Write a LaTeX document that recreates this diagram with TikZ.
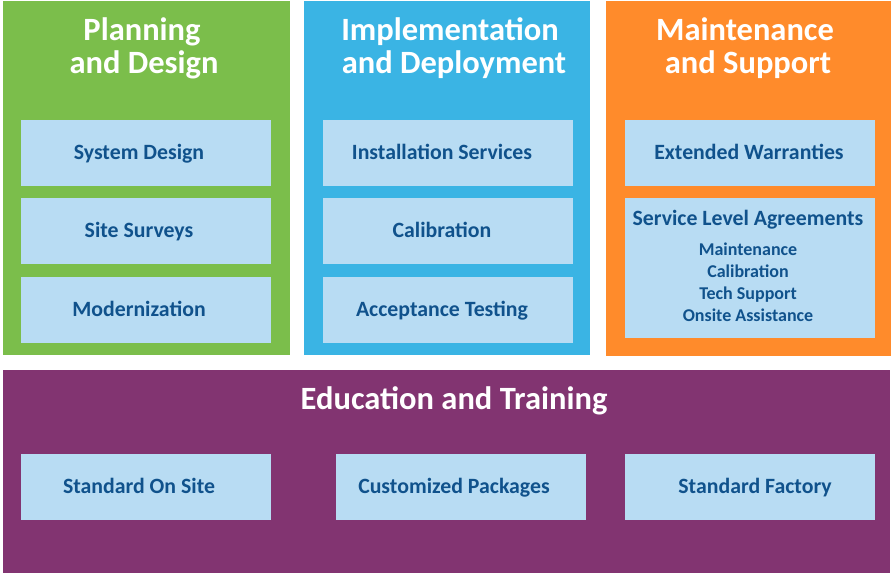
\documentclass[tikz,border=0pt]{standalone}
\usepackage{fontspec}
\setmainfont{Carlito}
\definecolor{pgreen}{RGB}{123,190,75}
\definecolor{pblue}{RGB}{58,180,228}
\definecolor{porange}{RGB}{255,139,43}
\definecolor{ppurple}{RGB}{130,52,113}
\definecolor{lbox}{RGB}{184,220,243}
\definecolor{dtext}{RGB}{16,82,140}
\begin{document}
\begin{tikzpicture}[x=1pt,y=-1pt,
  title/.style={text=white,font=\bfseries\fontsize{32.5}{33}\selectfont,anchor=base,inner sep=0pt},
  item/.style={fill=lbox,inner sep=0pt,outer sep=0pt,minimum width=250pt,minimum height=66pt},
  itemtext/.style={text=dtext,font=\bfseries\fontsize{21.8}{24}\selectfont,anchor=base,inner sep=0pt},
  sub/.style={text=dtext,font=\bfseries\fontsize{18}{22}\selectfont,anchor=base,inner sep=0pt}]
\useasboundingbox (0,0) rectangle (891,573);
\fill[white] (0,0) rectangle (891,573);
% panels
\fill[pgreen] (3,1) rectangle (290,355);
\fill[pblue] (304,1) rectangle (590,355);
\fill[porange] (606,1) rectangle (891,356);
\fill[ppurple] (3,370) rectangle (890,573);
% titles
\node[title] (t1a) at (142,40) {Planning};
\node[title] (t1b) at (144,73) {and Design};
\node[title] (t2a) at (450,40) {Implementation};
\node[title] (t2b) at (454,73) {and Deployment};
\node[title] (t3a) at (745,40) {Maintenance};
\node[title] (t3b) at (748,73) {and Support};
\node[title] (t4) at (454,409) {Education and Training};
% green items
\node[item] (g1) at (146,153) {};
\node[itemtext] at ([xshift=-7pt,yshift=-6pt]g1.center) {System Design};
\node[item] (g2) at (146,231) {};
\node[itemtext] at ([xshift=-7pt,yshift=-6pt]g2.center) {Site Surveys};
\node[item] (g3) at (146,310) {};
\node[itemtext] at ([xshift=-7pt,yshift=-6pt]g3.center) {Modernization};
% blue items
\node[item] (b1) at (448,153) {};
\node[itemtext] at ([xshift=-6pt,yshift=-6pt]b1.center) {Installation Services};
\node[item] (b2) at (448,231) {};
\node[itemtext] at ([xshift=-6pt,yshift=-6pt]b2.center) {Calibration};
\node[item] (b3) at (448,310) {};
\node[itemtext] at ([xshift=-6pt,yshift=-6pt]b3.center) {Acceptance Testing};
% orange items
\node[item] (o1) at (750,153) {};
\node[itemtext] at ([xshift=-1pt,yshift=-6pt]o1.center) {Extended Warranties};
\node[item,minimum height=140pt] (o2) at (750,268) {};
\node[itemtext] (o2t) at (748,225) {Service Level Agreements};
\node[sub] (s1) at (748,255) {Maintenance};
\node[sub] (s2) at (748,277) {Calibration};
\node[sub] (s3) at (748,299) {Tech Support};
\node[sub] (s4) at (748,321) {Onsite Assistance};
% purple items
\node[item] (p1) at (146,487) {};
\node[itemtext] at ([xshift=-7pt,yshift=-6pt]p1.center) {Standard On Site};
\node[item] (p2) at (461,487) {};
\node[itemtext] at ([xshift=-7pt,yshift=-6pt]p2.center) {Customized Packages};
\node[item] (p3) at (750,487) {};
\node[itemtext] at ([xshift=5pt,yshift=-6pt]p3.center) {Standard Factory};
\end{tikzpicture}
\end{document}
